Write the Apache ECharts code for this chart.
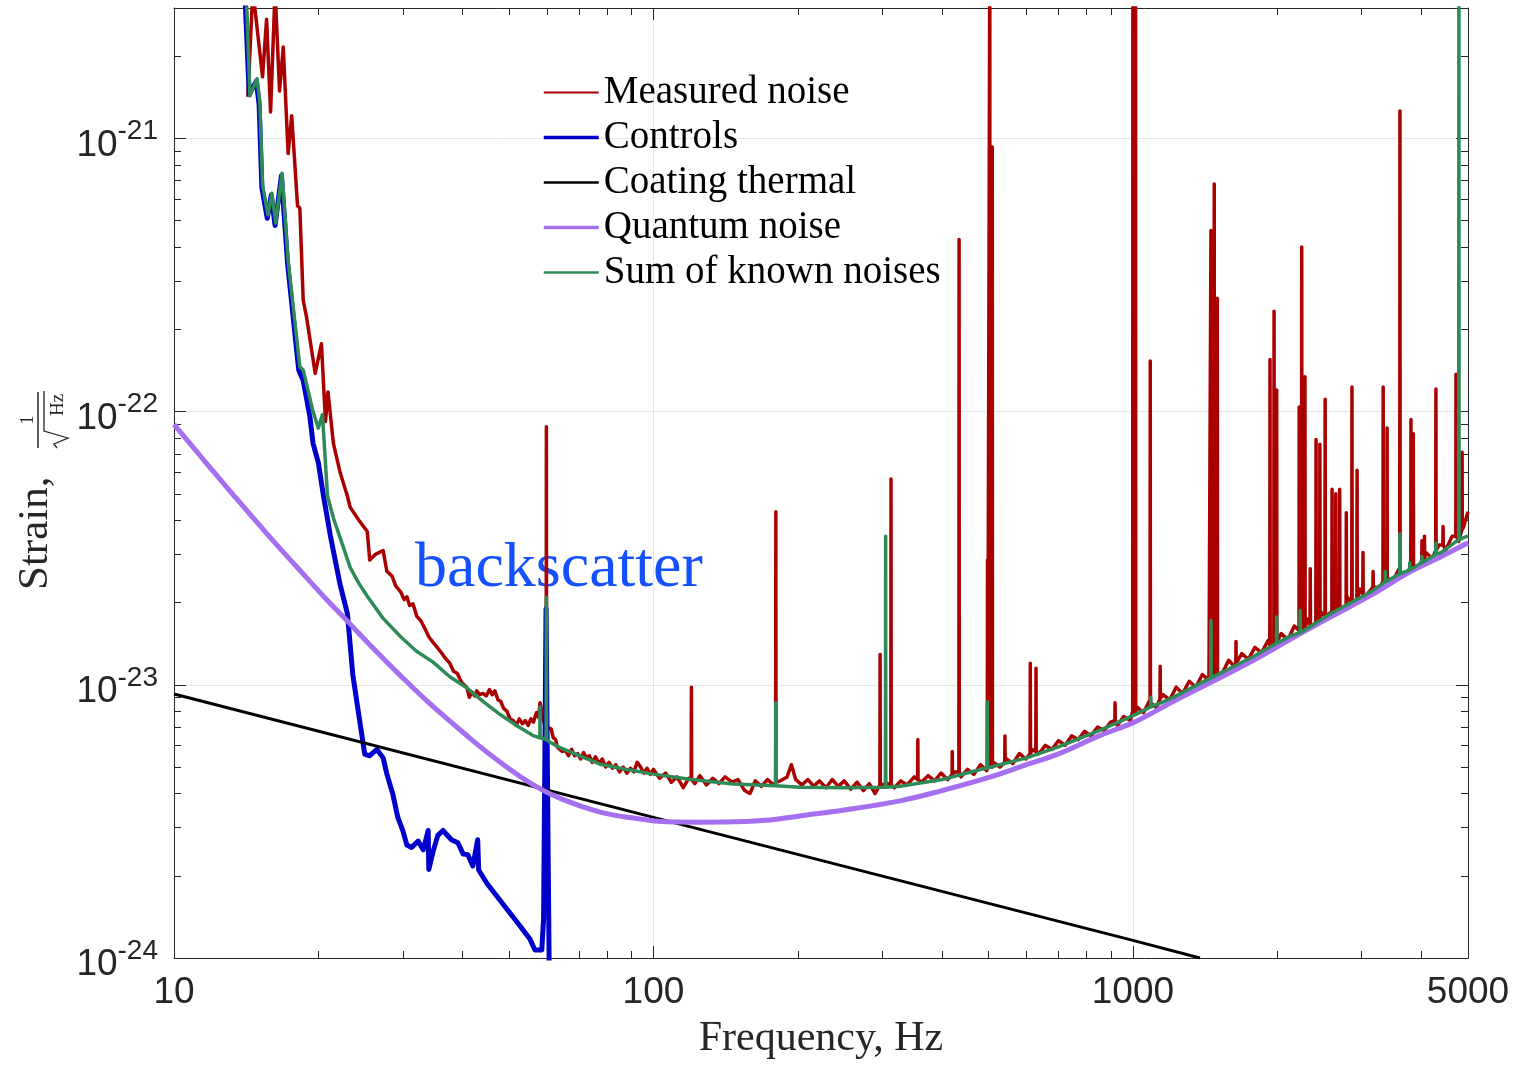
<!DOCTYPE html>
<html>
<head>
<meta charset="utf-8">
<title>Noise budget</title>
<script src="https://cdn.jsdelivr.net/npm/echarts@6/dist/echarts.min.js"></script>
<style>
  html, body { margin: 0; padding: 0; background: #fff; }
  #chart { width: 1514px; height: 1065px; }
</style>
</head>
<body>
<div id="chart"></div>
<script>
// frequency [Hz], strain [1/sqrt(Hz)]
const measuredBase = [
  [14.26, 1.42e-21], [14.6, 3.5e-21], [15.3, 1.68e-21], [15.6, 2.73e-21], [15.9, 1.25e-21],
  [16.25, 3.5e-21], [16.6, 1.49e-21], [16.9, 2.16e-21], [17.3, 8.8e-22], [17.6, 1.21e-21],
  [18.1, 5.66e-22], [18.3, 5.56e-22], [18.6, 2.55e-22], [18.9, 2.22e-22], [19.7, 1.38e-22],
  [20.3, 1.77e-22], [20.7, 9.2e-23], [20.95, 1.18e-22], [21.5, 7.65e-23], [22.2, 6.0e-23],
  [23.0, 4.9e-23], [23.3, 4.47e-23], [24.3, 4.0e-23], [25.3, 3.64e-23], [25.6, 2.86e-23],
  [26.3, 3.0e-23], [27.3, 3.1e-23], [27.8, 2.6e-23], [28.5, 2.5e-23], [29.0, 2.3e-23],
  [29.7, 2.19e-23], [30.2, 2.05e-23], [30.6, 2.1e-23], [31.0, 1.95e-23], [31.5, 1.98e-23],
  [32.1, 1.78e-23], [32.7, 1.72e-23], [33.4, 1.6e-23], [34.0, 1.5e-23], [34.7, 1.43e-23],
  [35.3, 1.38e-23], [36.0, 1.32e-23], [36.8, 1.25e-23], [37.6, 1.2e-23], [38.3, 1.12e-23],
  [39.0, 1.1e-23], [39.8, 1.02e-23], [40.8, 9.8e-24], [41.3, 9.0e-24], [41.8, 9.4e-24],
  [42.4, 9.1e-24], [42.8, 9.5e-24], [43.4, 9.2e-24], [44.1, 9.3e-24], [44.8, 9.1e-24],
  [45.5, 9.6e-24], [46.1, 9.2e-24], [46.7, 9.5e-24], [47.4, 8.8e-24], [48.0, 8.7e-24],
  [48.7, 8.2e-24], [49.5, 8.0e-24], [50.2, 7.5e-24], [51.0, 7.4e-24], [51.7, 7.1e-24],
  [52.5, 7.5e-24], [53.3, 7.2e-24], [54.0, 7.4e-24], [54.8, 7.1e-24], [55.5, 7.5e-24],
  [56.2, 7.3e-24], [57.0, 7.9e-24], [57.6, 7.6e-24], [58.0, 8.6e-24], [58.5, 8.0e-24],
  [58.9, 7.4e-24], [61.2, 6.9e-24], [61.8, 6.4e-24], [62.5, 6.3e-24], [63.1, 5.9e-24],
  [63.7, 6.0e-24], [64.5, 5.7e-24], [65.5, 5.75e-24], [66.5, 5.5e-24], [67.5, 5.8e-24],
  [68.5, 5.5e-24], [69.5, 5.6e-24], [70.5, 5.35e-24], [71.5, 5.65e-24], [72.5, 5.4e-24],
  [73.5, 5.5e-24], [74.5, 5.2e-24], [75.7, 5.45e-24], [77.0, 5.15e-24], [78.2, 5.35e-24],
  [79.5, 5.0e-24], [80.8, 5.2e-24], [82.1, 4.95e-24], [83.5, 5.1e-24], [85.0, 4.8e-24],
  [86.5, 5.0e-24], [88.0, 4.75e-24], [89.5, 4.95e-24], [91.0, 4.8e-24], [92.5, 5.2e-24],
  [94.0, 5.0e-24], [95.5, 4.75e-24], [97.0, 4.95e-24], [98.5, 4.7e-24], [100, 4.9e-24],
  [103, 4.55e-24], [106, 4.75e-24], [109, 4.4e-24], [112, 4.6e-24], [115.4, 4.2e-24],
  [118.5, 4.55e-24], [122, 4.35e-24], [125, 4.65e-24], [129, 4.3e-24], [133, 4.55e-24],
  [137, 4.35e-24], [141, 4.6e-24], [146, 4.4e-24], [150, 4.5e-24], [155, 4.1e-24],
  [159, 4.0e-24], [163, 4.45e-24], [168, 4.25e-24], [173, 4.5e-24], [178, 4.3e-24],
  [184, 4.45e-24], [190, 4.6e-24], [194, 5.1e-24], [198, 4.5e-24], [204, 4.3e-24],
  [210, 4.5e-24], [216, 4.25e-24], [222, 4.45e-24], [229, 4.2e-24], [236, 4.5e-24],
  [243, 4.25e-24], [250, 4.45e-24], [258, 4.15e-24], [266, 4.4e-24], [274, 4.1e-24],
  [282, 4.35e-24], [290, 4.0e-24], [300, 4.3e-24], [308, 4.35e-24], [318, 4.2e-24],
  [328, 4.45e-24], [338, 4.3e-24], [350, 4.6e-24], [362, 4.4e-24], [374, 4.65e-24],
  [386, 4.45e-24], [398, 4.75e-24], [411, 4.5e-24], [424, 4.8e-24], [438, 4.6e-24],
  [452, 4.9e-24], [466, 4.7e-24], [481, 5.1e-24], [496, 4.85e-24], [512, 5.2e-24],
  [528, 5.0e-24], [545, 5.35e-24], [562, 5.15e-24], [580, 5.6e-24], [598, 5.35e-24],
  [617, 5.8e-24], [637, 5.6e-24], [657, 6.0e-24], [678, 5.8e-24], [700, 6.25e-24],
  [722, 6.0e-24], [745, 6.5e-24], [769, 6.3e-24], [793, 6.75e-24], [818, 6.5e-24],
  [844, 7.0e-24], [871, 6.8e-24], [899, 7.3e-24], [928, 7.1e-24], [957, 7.65e-24],
  [988, 7.4e-24], [1019, 8.3e-24], [1052, 7.9e-24], [1085, 8.8e-24], [1120, 8.25e-24],
  [1156, 9.2e-24], [1193, 8.8e-24], [1231, 9.8e-24], [1270, 9.3e-24], [1311, 1.03e-23],
  [1353, 9.8e-24], [1396, 1.09e-23], [1441, 1.04e-23], [1487, 1.16e-23], [1535, 1.1e-23],
  [1584, 1.23e-23], [1635, 1.16e-23], [1687, 1.3e-23], [1741, 1.24e-23], [1797, 1.37e-23],
  [1855, 1.31e-23], [1914, 1.45e-23], [1976, 1.38e-23], [2039, 1.54e-23], [2104, 1.46e-23],
  [2172, 1.64e-23], [2241, 1.56e-23], [2313, 1.74e-23], [2388, 1.66e-23], [2464, 1.85e-23],
  [2543, 1.76e-23], [2625, 1.97e-23], [2709, 1.87e-23], [2796, 2.1e-23], [2886, 2.0e-23],
  [2978, 2.24e-23], [3074, 2.13e-23], [3172, 2.38e-23], [3274, 2.26e-23], [3379, 2.52e-23],
  [3488, 2.4e-23], [3600, 2.68e-23], [3715, 2.54e-23], [3834, 2.85e-23], [3957, 2.71e-23],
  [4084, 3.05e-23], [4215, 2.9e-23], [4350, 3.25e-23], [4490, 3.1e-23], [4634, 3.5e-23],
  [4782, 3.35e-23], [4900, 3.8e-23], [5000, 4.3e-23]
];
// lines: [frequency, floor under the line, top of the line]
const measuredLines = [
  [59.8, 7.0e-24, 8.8e-23], [120, 4.5e-24, 9.8e-24], [180, 4.4e-24, 4.3e-23],
  [297, 4.3e-24, 1.29e-23], [313, 4.3e-24, 5.66e-23], [356, 4.5e-24, 6.3e-24],
  [420, 4.7e-24, 5.7e-24], [434, 4.8e-24, 4.26e-22], [497.5, 5.0e-24, 2.86e-23],
  [503, 5.0e-24, 5e-21], [509, 5.0e-24, 9.3e-22], [541, 5.2e-24, 6.5e-24],
  [611, 5.6e-24, 1.2e-23], [628, 5.7e-24, 1.15e-23], [918, 7.4e-24, 8.6e-24],
  [1000, 8.0e-24, 5e-21], [1007, 8.0e-24, 5e-21], [1013, 8.0e-24, 5e-21],
  [1087, 8.6e-24, 1.53e-22], [1140, 8.9e-24, 1.17e-23], [1455, 1.05e-23, 4.6e-22],
  [1478, 1.08e-23, 6.8e-22], [1500, 1.1e-23, 2.6e-22], [1641, 1.2e-23, 1.44e-23],
  [1932, 1.4e-23, 1.55e-22], [1970, 1.42e-23, 2.33e-22], [1995, 1.43e-23, 1.2e-22],
  [2223, 1.58e-23, 1.04e-22], [2250, 1.6e-23, 4.0e-22], [2285, 1.62e-23, 1.34e-22],
  [2344, 1.66e-23, 2.66e-23], [2410, 1.7e-23, 7.9e-23], [2455, 1.74e-23, 7.6e-23],
  [2518, 1.78e-23, 1.11e-22], [2603, 1.85e-23, 5.2e-23], [2650, 1.87e-23, 5.0e-23],
  [2700, 1.9e-23, 5.2e-23], [2787, 1.95e-23, 4.26e-23], [2864, 2.0e-23, 1.23e-22],
  [2935, 2.05e-23, 6.1e-23], [3020, 2.15e-23, 3.05e-23], [3170, 2.28e-23, 2.6e-23],
  [3327, 2.4e-23, 1.23e-22], [3390, 2.45e-23, 8.7e-23], [3606, 2.58e-23, 1.26e-21],
  [3802, 2.7e-23, 9.35e-23], [3845, 2.72e-23, 8.3e-23], [4008, 2.85e-23, 3.37e-23],
  [4057, 2.9e-23, 3.5e-23], [4286, 3.1e-23, 1.21e-22], [4436, 3.25e-23, 3.8e-23],
  [4720, 3.5e-23, 1.37e-22], [4860, 3.7e-23, 7.1e-23]
];
const controls = [
  [14.0, 4e-21], [14.35, 1.45e-21], [14.85, 1.62e-21], [15.05, 1.33e-21], [15.25, 6.6e-22],
  [15.65, 5.1e-22], [15.95, 6.2e-22], [16.25, 4.8e-22], [16.75, 7.3e-22], [17.25, 3.5e-22],
  [18.2, 1.42e-22], [18.6, 1.3e-22], [19.2, 9.6e-23], [19.5, 7.65e-23], [20.0, 6.5e-23],
  [20.5, 4.91e-23], [21.2, 3.5e-23], [22.2, 2.33e-23], [23.0, 1.82e-23], [23.6, 1.09e-23],
  [24.4, 7.36e-24], [25.0, 5.56e-24], [25.6, 5.5e-24], [26.5, 5.8e-24], [27.3, 5.4e-24],
  [27.8, 4.71e-24], [28.6, 3.98e-24], [29.3, 3.27e-24], [30.0, 2.93e-24], [30.6, 2.59e-24],
  [31.3, 2.54e-24], [32.3, 2.68e-24], [33.1, 2.49e-24], [33.9, 2.93e-24], [34.0, 2.11e-24],
  [34.7, 2.45e-24], [35.5, 2.81e-24], [36.4, 2.93e-24], [37.9, 2.71e-24], [39.1, 2.64e-24],
  [40.1, 2.4e-24], [41.0, 2.39e-24], [42.0, 2.17e-24], [43.0, 2.71e-24], [43.2, 2.1e-24],
  [45.0, 1.87e-24], [47.2, 1.68e-24], [50.2, 1.46e-24], [52.7, 1.31e-24], [55.3, 1.17e-24],
  [56.6, 1.07e-24], [58.5, 1.07e-24], [59.0, 1.39e-24], [59.7, 1.9e-23], [60.3, 2.5e-24],
  [60.8, 5e-25]
];
const coating = [[10, 9.25e-24], [100, 3.27e-24], [1000, 1.16e-24], [1380, 1.0e-24]];
const quantum = [
  [10, 8.97e-23], [11.5, 6.69e-23], [13.3, 4.95e-23], [15.5, 3.63e-23], [18, 2.71e-23],
  [20.5, 2.11e-23], [23, 1.71e-23], [26, 1.363e-23], [29.7, 1.078e-23], [34, 8.6e-24],
  [40.8, 6.52e-24], [47, 5.34e-24], [56.3, 4.29e-24], [65, 3.79e-24], [77.4, 3.42e-24],
  [90, 3.26e-24], [106.7, 3.15e-24], [125, 3.14e-24], [146.6, 3.15e-24], [175, 3.2e-24],
  [202, 3.31e-24], [250, 3.48e-24], [326.8, 3.76e-24], [400, 4.1e-24], [503, 4.59e-24],
  [600, 5.1e-24], [695, 5.56e-24], [850, 6.5e-24], [1012, 7.33e-24], [1200, 8.6e-24],
  [1469, 1.03e-23], [1800, 1.24e-23], [2148, 1.48e-23], [2600, 1.78e-23], [3126, 2.12e-23],
  [3800, 2.6e-23], [4400, 2.95e-23], [5000, 3.31e-23]
];
const knownBase = [
  [14.1, 4e-21], [14.4, 1.43e-21], [14.9, 1.65e-21], [15.1, 1.36e-21], [15.3, 6.75e-22],
  [15.7, 5.25e-22], [16.0, 6.3e-22], [16.3, 4.9e-22], [16.8, 7.46e-22], [17.3, 3.57e-22],
  [18.3, 1.46e-22], [18.6, 1.42e-22], [19.5, 1.0e-22], [20.0, 8.7e-23], [20.4, 9.76e-23],
  [20.9, 4.91e-23], [21.5, 4.08e-23], [22.4, 3.3e-23], [23.3, 2.69e-23], [24.3, 2.35e-23],
  [25.3, 2.11e-23], [27.3, 1.75e-23], [29.7, 1.5e-23], [32.0, 1.33e-23], [34.7, 1.21e-23],
  [37.6, 1.07e-23], [40.8, 9.75e-24], [44.1, 8.7e-24], [47.9, 7.78e-24], [51.8, 7.1e-24],
  [56.3, 6.5e-24], [60.5, 6.2e-24], [63.7, 5.9e-24], [70, 5.5e-24], [77.4, 5.12e-24],
  [88, 4.9e-24], [100, 4.71e-24], [120, 4.5e-24], [146.6, 4.33e-24], [202, 4.22e-24],
  [250, 4.2e-24], [327, 4.25e-24], [400, 4.5e-24], [503, 4.99e-24], [600, 5.4e-24],
  [695, 5.9e-24], [850, 6.8e-24], [1012, 7.78e-24], [1200, 8.9e-24], [1469, 1.07e-23],
  [1800, 1.28e-23], [2148, 1.52e-23], [2600, 1.83e-23], [3126, 2.18e-23], [3800, 2.63e-23],
  [4400, 3.05e-23], [5000, 3.51e-23]
];
const knownLines = [
  [58.0, 6.4e-24, 8.3e-24], [59.8, 6.3e-24, 2.09e-23], [180, 4.27e-24, 8.6e-24],
  [305, 4.22e-24, 3.5e-23], [497, 4.97e-24, 8.67e-24], [1090, 8.3e-24, 9.0e-24],
  [1455, 1.06e-23, 1.72e-23], [1995, 1.42e-23, 1.77e-23], [2233, 1.55e-23, 1.87e-23],
  [3360, 2.38e-23, 2.6e-23], [3606, 2.55e-23, 3.57e-23], [3780, 2.63e-23, 2.8e-23],
  [4008, 2.8e-23, 2.95e-23], [4286, 3.0e-23, 3.3e-23], [4786, 3.4e-23, 5e-21]
];
const seriesNames = ['Measured noise', 'Controls', 'Coating thermal', 'Quantum noise', 'Sum of known noises'];
const xMinorTicks = [20, 30, 40, 50, 60, 70, 80, 90, 200, 300, 400, 500, 600, 700, 800, 900, 2000, 3000, 4000];
const yMinorTicks = [
  2e-24, 3e-24, 4e-24, 5e-24, 6e-24, 7e-24, 8e-24, 9e-24,
  2e-23, 3e-23, 4e-23, 5e-23, 6e-23, 7e-23, 8e-23, 9e-23,
  2e-22, 3e-22, 4e-22, 5e-22, 6e-22, 7e-22, 8e-22, 9e-22, 2e-21
];
const yMin = 1e-24;
const yMax = 3e-21;

// the log axis rounds tiny numbers to 0, so strain is plotted in units of 1e-24
const UNIT = 1e-24
function toUnit (v) { return Math.round(v / UNIT * 1e6) / 1e6 }

// a line is drawn as floor -> top -> floor at its frequency
function addLines (base, lines) {
  const pts = base.slice()
  lines.forEach(function (l) {
    pts.push([l[0] * 0.999, l[1]], [l[0], l[2]], [l[0] * 1.001, l[1]])
  })
  return pts.sort(function (a, b) { return a[0] - b[0] })
}
function scaled (pts) {
  return pts.map(function (p) { return [p[0], toUnit(p[1])] })
}

const axisColor = '#262626'
const sans = 'Liberation Sans'
const serif = 'Liberation Serif'

function logAxis (pos, major, extra) {
  const isY = pos === 'left' || pos === 'right'
  const ax = {
    type: 'log',
    logBase: 10,
    position: pos,
    min: isY ? toUnit(yMin) : 10,
    max: isY ? toUnit(yMax) : 5000,
    axisLine: { show: major, onZero: false, lineStyle: { color: axisColor, width: 1 } },
    axisTick: { show: true, inside: true, length: major ? 12 : 7, lineStyle: { color: axisColor, width: 1 } },
    axisLabel: { show: false },
    splitLine: { show: false }
  }
  if (!major) {
    ax.axisTick.customValues = isY ? yMinorTicks.map(toUnit) : xMinorTicks
  }
  return Object.assign(ax, extra || {})
}

const chart = echarts.init(document.getElementById('chart'), null, { renderer: 'canvas' })

const option = {
  animation: false,
  backgroundColor: '#ffffff',
  grid: { left: 174, right: 46, top: 8, bottom: 100, containLabel: false },
  legend: {
    orient: 'vertical',
    left: 542,
    top: 70,
    padding: 0,
    itemWidth: 55,
    itemHeight: 14,
    itemGap: 0,
    itemStyle: { opacity: 0 },
    textStyle: { fontFamily: serif, fontSize: 39, color: '#000', lineHeight: 45 },
    data: [
      { name: seriesNames[0], lineStyle: { width: 2 } },
      { name: seriesNames[1], lineStyle: { width: 3.5 } },
      { name: seriesNames[2], lineStyle: { width: 2.5 } },
      { name: seriesNames[3], lineStyle: { width: 3.5 } },
      { name: seriesNames[4], lineStyle: { width: 2.5 } }
    ]
  },
  xAxis: [
    logAxis('bottom', true, {
      name: 'Frequency, Hz',
      nameLocation: 'middle',
      nameGap: 60,
      nameTextStyle: { fontFamily: serif, fontSize: 42, color: axisColor },
      axisLabel: {
        show: true, margin: 16, color: axisColor, fontFamily: sans, fontSize: 37,
        formatter: function (v) { return String(Math.round(v)) }
      },
      splitLine: { show: true, lineStyle: { color: '#e6e6e6', width: 1 } }
    }),
    logAxis('top', true),
    logAxis('bottom', false),
    logAxis('top', false)
  ],
  yAxis: [
    logAxis('left', true, {
      axisLabel: {
        show: true, margin: 16, color: axisColor,
        formatter: function (v) {
          const e = Math.log10(v)
          const r = Math.round(e)
          if (Math.abs(e - r) > 1e-6) return ''
          return '{b|10}{s|' + (r + Math.round(Math.log10(UNIT))) + '}'
        },
        rich: {
          b: { fontFamily: sans, fontSize: 37, color: axisColor, padding: [14, 0, 0, 0] },
          s: { fontFamily: sans, fontSize: 28, color: axisColor, padding: [0, 0, 14, 0] }
        }
      },
      splitLine: { show: true, lineStyle: { color: '#e6e6e6', width: 1 } }
    }),
    logAxis('right', true),
    logAxis('left', false),
    logAxis('right', false)
  ],
  graphic: [
    {
      type: 'text',
      style: { text: 'backscatter', x: 415, y: 569, verticalAlign: 'middle', font: '64px "Liberation Serif"', fill: '#1550ff' }
    },
    {
      type: 'group',
      x: 0,
      y: 590,
      rotation: Math.PI / 2,
      children: [
        { type: 'text', style: { text: 'Strain,', x: 0, y: 36, align: 'left', verticalAlign: 'middle', font: '43px "Liberation Serif"', fill: axisColor } },
        { type: 'text', style: { text: '1', x: 170, y: 28, align: 'center', verticalAlign: 'middle', font: '19px "Liberation Serif"', fill: axisColor } },
        { type: 'line', shape: { x1: 142, y1: 38, x2: 198, y2: 38 }, style: { stroke: axisColor, lineWidth: 1.5 } },
        { type: 'polyline', shape: { points: [[142, 57], [146, 54], [152, 68], [159, 44], [199, 44]] }, style: { stroke: axisColor, lineWidth: 1.3, fill: null } },
        { type: 'text', style: { text: 'Hz', x: 185, y: 58, align: 'center', verticalAlign: 'middle', font: '19px "Liberation Serif"', fill: axisColor } }
      ]
    }
  ],
  series: [
    {
      name: seriesNames[0], type: 'line', symbol: 'none', showSymbol: false, clip: true,
      lineStyle: { color: '#aa0000', width: 3.5, join: 'round' }, itemStyle: { color: '#aa0000' },
      data: scaled(addLines(measuredBase, measuredLines))
    },
    {
      name: seriesNames[1], type: 'line', symbol: 'none', showSymbol: false, clip: true,
      lineStyle: { color: '#0000cc', width: 5, join: 'round' }, itemStyle: { color: '#0000cc' },
      data: scaled(controls)
    },
    {
      name: seriesNames[2], type: 'line', symbol: 'none', showSymbol: false, clip: true,
      lineStyle: { color: '#000000', width: 3 }, itemStyle: { color: '#000000' },
      data: scaled(coating)
    },
    {
      name: seriesNames[3], type: 'line', symbol: 'none', showSymbol: false, clip: true, smooth: 0.4,
      lineStyle: { color: '#a56ff0', width: 5 }, itemStyle: { color: '#a56ff0' },
      data: scaled(quantum)
    },
    {
      name: seriesNames[4], type: 'line', symbol: 'none', showSymbol: false, clip: true,
      lineStyle: { color: '#2e8b57', width: 3.5, join: 'round' }, itemStyle: { color: '#2e8b57' },
      data: scaled(addLines(knownBase, knownLines))
    }
  ]
}

chart.setOption(option)
</script>
</body>
</html>
